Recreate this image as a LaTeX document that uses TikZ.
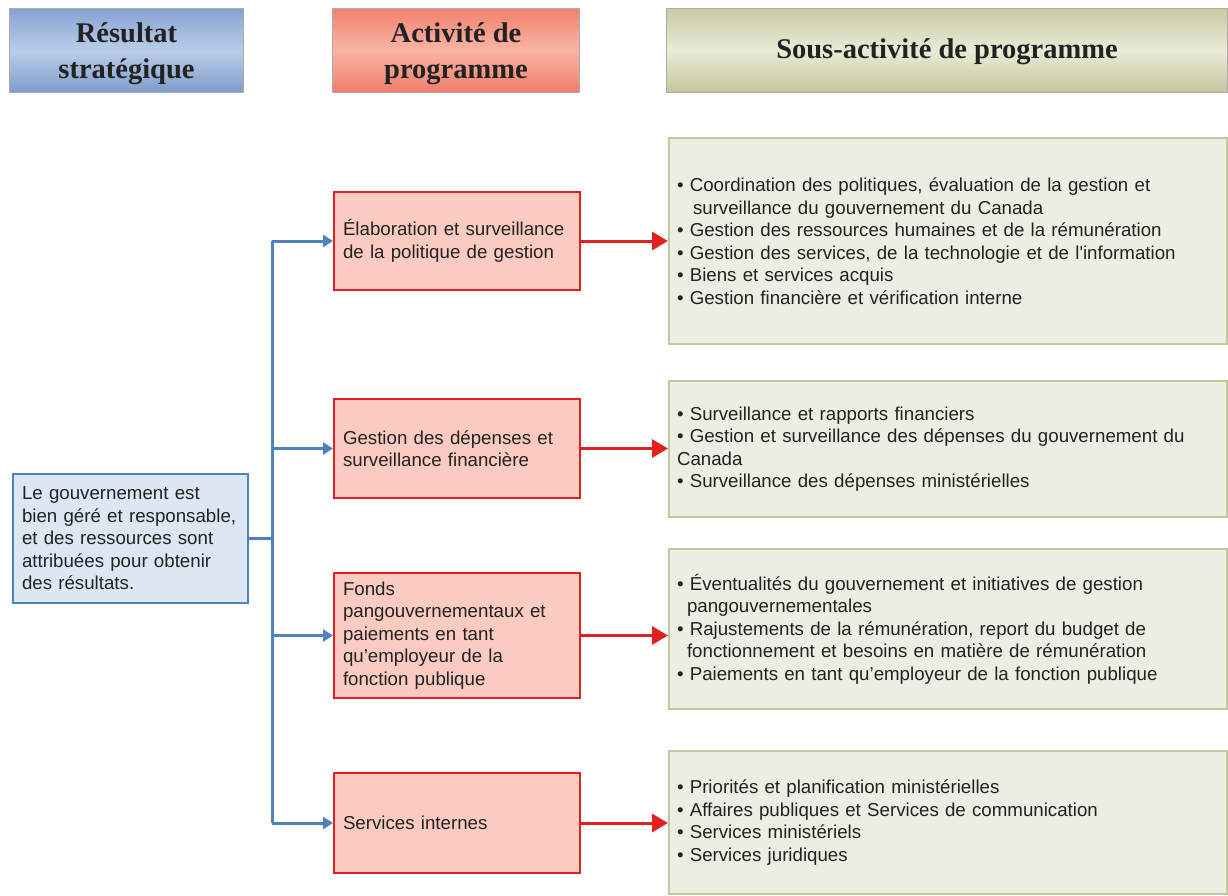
\documentclass[tikz,border=0pt]{standalone}
\usepackage{fontspec}
\setmainfont{Liberation Sans}
\newfontfamily\headfont{Liberation Serif}
\usetikzlibrary{arrows.meta}
\hyphenpenalty=10000
\exhyphenpenalty=10000
\definecolor{txt}{HTML}{222222}
\definecolor{bline}{HTML}{4F81BD}
\definecolor{bfill}{HTML}{DDE7F3}
\definecolor{rline}{HTML}{E2201F}
\definecolor{rfill}{HTML}{FBCBC1}
\definecolor{oline}{HTML}{C3C79B}
\definecolor{ofill}{HTML}{ECEEE3}
\definecolor{hbT}{HTML}{85A3D3}
\definecolor{hbM}{HTML}{BACCE8}
\definecolor{hbB}{HTML}{7F9DCC}
\definecolor{hrT}{HTML}{F2826E}
\definecolor{hrM}{HTML}{F9B5A5}
\definecolor{hrB}{HTML}{EE7C68}
\definecolor{hoT}{HTML}{CACAA2}
\definecolor{hoM}{HTML}{EAEAD8}
\definecolor{hoB}{HTML}{C6C69B}
\begin{document}
\begin{tikzpicture}[x=1pt,y=1pt,
  every node/.style={text=txt},
  body/.style={font=\fontsize{18.7}{22.5}\selectfont, align=left, anchor=north west, inner ysep=0pt, line width=2pt},
  headbox/.style={anchor=north west, draw=gray!65, line width=1pt, inner sep=0pt, minimum height=84pt},
  headtext/.style={align=center, inner sep=0pt, font=\headfont\bfseries\fontsize{28.5}{36}\selectfont},
  bluebox/.style={body, draw=bline, fill=bfill, inner xsep=9pt},
  redbox/.style={body, draw=rline, fill=rfill, inner xsep=9pt, minimum width=246pt, text width=228pt},
  olivebox/.style={body, draw=oline, fill=ofill, inner xsep=8pt, minimum width=558pt, text width=542pt},
  bconn/.style={draw=bline, line width=3pt},
  barrow/.style={bconn, -{Triangle[length=10pt,width=12pt]}},
  rarrow/.style={draw=rline, line width=3pt, -{Triangle[length=16pt,width=18pt]}},
]
\useasboundingbox (0,0) rectangle (1228,-895);
\fill[white] (0,0) rectangle (1228,-895);

% headers
\node[headbox, minimum width=234pt, top color=hbT, bottom color=hbB, middle color=hbM] (H1) at (9,-8) {};
\node[headtext] (H1t) at ([yshift=-3pt]H1.center) {Résultat\\stratégique};
\node[headbox, minimum width=247pt, top color=hrT, bottom color=hrB, middle color=hrM] (H2) at (332,-8) {};
\node[headtext] (H2t) at ([yshift=-3pt]H2.center) {Activité de\\programme};
\node[headbox, minimum width=561pt, top color=hoT, bottom color=hoB, middle color=hoM] (H3) at (666,-8) {};
\node[headtext] (H3t) at ([yshift=-1pt]H3.center) {Sous-activité de programme};

% left box
\node[bluebox, minimum width=235pt, text width=217pt, minimum height=129pt] (L) at (12,-473)
 {Le gouvernement est\\bien géré et responsable,\\et des ressources sont\\attribuées pour obtenir\\des résultats.};

% red boxes
\node[redbox, minimum height=98pt] (R1) at (333,-191) {Élaboration et surveillance\\de la politique de gestion};
\node[redbox, minimum height=99pt] (R2) at (333,-398) {Gestion des dépenses et\\surveillance financière};
\node[redbox, minimum height=125pt] (R3) at (333,-572) {Fonds\\pangouvernementaux et\\paiements en tant\\qu’employeur de la\\fonction publique};
\node[redbox, minimum height=100pt] (R4) at (333,-772) {Services internes};

% olive boxes
\node[olivebox, minimum height=206pt] (O1) at (668,-137)
 {• Coordination des politiques, évaluation de la gestion et\\
  \hspace*{16pt}surveillance du gouvernement du Canada\\
  • Gestion des ressources humaines et de la rémunération\\
  • Gestion des services, de la technologie et de l\textquotesingle information\\
  • Biens et services acquis\\
  • Gestion financière et vérification interne};
\node[olivebox, minimum height=136pt] (O2) at (668,-380)
 {• Surveillance et rapports financiers\\
  • Gestion et surveillance des dépenses du gouvernement du\\
  \hspace*{0pt}Canada\\
  • Surveillance des dépenses ministérielles};
\node[olivebox, minimum height=160pt] (O3) at (668,-548)
 {• Éventualités du gouvernement et initiatives de gestion\\
  \hspace*{10pt}pangouvernementales\\
  • Rajustements de la rémunération, report du budget de\\
  \hspace*{10pt}fonctionnement et besoins en matière de rémunération\\
  • Paiements en tant qu’employeur de la fonction publique};
\node[olivebox, minimum height=143pt] (O4) at (668,-750)
 {• Priorités et planification ministérielles\\
  • Affaires publiques et Services de communication\\
  • Services ministériels\\
  • Services juridiques};

% blue connectors
\coordinate (trunk) at (272,-538);
\draw[bconn] (L.east) -- (L.east -| trunk);
\draw[bconn] (trunk |- R1.west) -- (trunk |- R4.west);
\draw[barrow] (trunk |- R1.west) -- (R1.west);
\draw[barrow] (trunk |- R2.west) -- (R2.west);
\draw[barrow] (trunk |- R3.west) -- (R3.west);
\draw[barrow] (trunk |- R4.west) -- (R4.west);

% red arrows
\draw[rarrow] (R1.east) -- (R1.east -| O1.west);
\draw[rarrow] (R2.east) -- (R2.east -| O2.west);
\draw[rarrow] (R3.east) -- (R3.east -| O3.west);
\draw[rarrow] (R4.east) -- (R4.east -| O4.west);
\end{tikzpicture}
\end{document}
